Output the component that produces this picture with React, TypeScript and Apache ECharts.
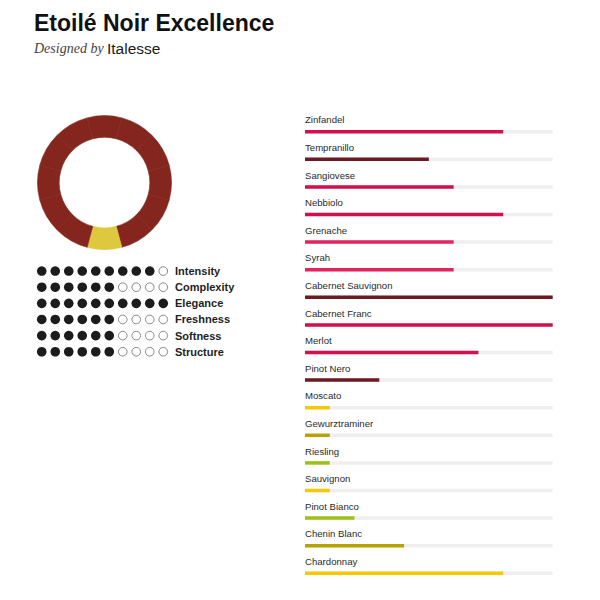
import React, { useEffect, useRef } from "react";
import * as echarts from "echarts";

const title = "Etoilé Noir Excellence";
const designedBy = "Designed by";
const designer = "Italesse";

const donutSegments = [1, 1, 1, 1, 1, 1, 1, 1, 1, 1, 1, 1];
const donutHighlight = [0, 0, 0, 0, 0, 0, 1, 0, 0, 0, 0, 0];

const attributes = ["Intensity", "Complexity", "Elegance", "Freshness", "Softness", "Structure"];
const attributeScores = [9, 6, 10, 6, 6, 6];
const dotSteps = [0, 1, 2, 3, 4, 5, 6, 7, 8, 9];

const grapes = [
  "Zinfandel", "Tempranillo", "Sangiovese", "Nebbiolo", "Grenache", "Syrah",
  "Cabernet Sauvignon", "Cabernet Franc", "Merlot", "Pinot Nero", "Moscato",
  "Gewurztraminer", "Riesling", "Sauvignon", "Pinot Bianco", "Chenin Blanc", "Chardonnay",
];
const grapeScores = [8, 5, 6, 8, 6, 6, 10, 10, 7, 3, 1, 1, 1, 1, 2, 4, 8];
const grapeGroups = [
  "red", "dark", "red", "red", "pink", "pink", "dark", "red", "red", "dark",
  "yellow", "olive", "green", "yellow", "green", "olive", "yellow",
];

const palette: Record<string, string> = {
  red: "#d30f4c",
  pink: "#e2245f",
  dark: "#6d1a22",
  yellow: "#f6c800",
  olive: "#b7a200",
  green: "#9cc21a",
};

export default function App() {
  const ref = useRef<HTMLDivElement>(null);
  useEffect(() => {
    if (!ref.current) return;
    const chart = echarts.init(ref.current, undefined, { renderer: "svg" });

    const filled: number[][] = [];
    const empty: number[][] = [];
    attributes.forEach((_, r) => {
      dotSteps.forEach((i) => {
        if (i < attributeScores[r]) filled.push([i, r]);
        else empty.push([i, r]);
      });
    });

    const option: any = {
      animation: false,
      backgroundColor: "#ffffff",
      graphic: [
        {
          type: "text",
          left: 34,
          top: 11,
          style: {
            text: title,
            font: "bold 23px 'Liberation Sans', Arial, sans-serif",
            fill: "#111111",
          },
        },
        {
          type: "text",
          left: 34,
          top: 41,
          style: {
            text: designedBy,
            font: "italic 14px 'Liberation Serif', 'DejaVu Serif', serif",
            fill: "#444444",
          },
        },
        {
          type: "text",
          left: 107,
          top: 40,
          style: {
            text: designer,
            font: "15.5px 'Liberation Sans', Arial, sans-serif",
            fill: "#1a1a1a",
          },
        },
      ],
      grid: [
        { left: 35, top: 263, width: 135, height: 96.8, containLabel: false },
        { left: 305, top: 117.9, width: 247.7, height: 469.2, containLabel: false },
      ],
      xAxis: [
        { gridIndex: 0, type: "value", min: -0.5, max: 9.5, show: false },
        { gridIndex: 1, type: "value", min: 0, max: 10, show: false },
      ],
      yAxis: [
        {
          gridIndex: 0,
          type: "category",
          data: attributes,
          inverse: true,
          position: "right",
          axisLine: { show: false },
          axisTick: { show: false },
          splitLine: { show: false },
          axisLabel: {
            margin: 5,
            align: "left",
            fontSize: 11,
            fontWeight: "bold",
            fontFamily: "'Liberation Sans', Arial, sans-serif",
            color: "#1e1e1e",
          },
        },
        {
          gridIndex: 1,
          type: "category",
          data: grapes,
          inverse: true,
          show: false,
        },
      ],
      series: [
        {
          type: "pie",
          center: [104.5, 182.6],
          radius: [45.3, 67],
          startAngle: 105,
          clockwise: true,
          silent: true,
          label: { show: false },
          labelLine: { show: false },
          emphasis: { disabled: true },
          data: donutSegments.map((v, i) => {
            const c = donutHighlight[i] ? "#dec83e" : "#84261d";
            return {
              value: v,
              itemStyle: { color: c, borderColor: c, borderWidth: 0.6 },
            };
          }),
        },
        {
          type: "scatter",
          xAxisIndex: 0,
          yAxisIndex: 0,
          symbol: "circle",
          symbolSize: 9.6,
          silent: true,
          itemStyle: { color: "#1c1c1c", opacity: 1 },
          data: filled,
        },
        {
          type: "scatter",
          xAxisIndex: 0,
          yAxisIndex: 0,
          symbol: "circle",
          symbolSize: 8.6,
          silent: true,
          itemStyle: { color: "#ffffff", borderColor: "#666666", borderWidth: 0.8, opacity: 1 },
          data: empty,
        },
        {
          type: "bar",
          xAxisIndex: 1,
          yAxisIndex: 1,
          barWidth: 3.5,
          silent: true,
          showBackground: true,
          backgroundStyle: { color: "#efefef" },
          label: {
            show: true,
            position: [0, -10],
            align: "left",
            verticalAlign: "middle",
            formatter: (p: any) => p.name,
            fontSize: 9.6,
            fontFamily: "'Liberation Sans', Arial, sans-serif",
            color: "#2a2a2a",
          },
          data: grapeScores.map((v, i) => ({
            value: v,
            itemStyle: { color: palette[grapeGroups[i]] },
          })),
        },
      ],
    };
    chart.setOption(option);
    return () => chart.dispose();
  }, []);
  return (
    <div
      ref={ref}
      style={{ position: "fixed", left: 0, top: 0, width: 600, height: 600 }}
    />
  );
}
